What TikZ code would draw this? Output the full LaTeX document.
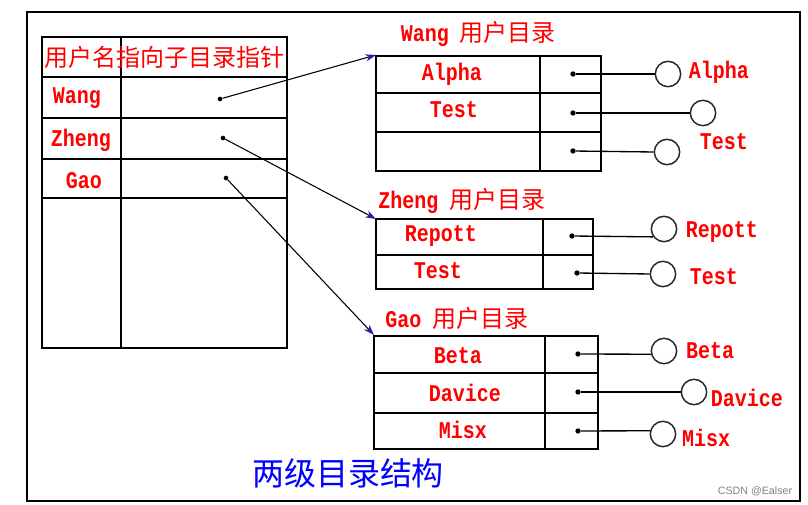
\documentclass[tikz,border=0pt]{standalone}
\usepackage{fontspec}
\usepackage{graphicx}
\setmainfont{Liberation Serif}
\newfontfamily\cjk{Noto Sans CJK SC}
\newfontfamily\monofnt{Liberation Mono}
\newfontfamily\sansfnt{Liberation Sans}
\newcommand{\lat}[1]{{\monofnt\bfseries\fontsize{15}{18}\selectfont\scalebox{1}[1.2]{#1}}}
\newcommand{\cn}[1]{{\cjk\fontsize{18}{20}\selectfont #1}}
\definecolor{arrowblue}{RGB}{60,20,170}
\definecolor{linegray}{RGB}{40,40,40}
\tikzset{
  thickbox/.style={draw=black,line width=2pt},
  thinline/.style={draw=black,line width=1.2pt},
  lbl/.style={text=red,inner sep=0pt},
  ptr/.style={circle,fill=black,inner sep=0pt,minimum size=4pt},
  leaf/.style={circle,draw=linegray,line width=1.1pt,inner sep=0pt,minimum size=19pt},
  link/.style={draw=black,line width=1pt},
  arr/.style={draw=black,line width=0.8pt,-{Stealth[length=8pt,width=5.5pt,fill=arrowblue,color=arrowblue]}},
}
\usetikzlibrary{arrows.meta}
\begin{document}
\begin{tikzpicture}[x=0.75pt,y=-0.75pt]
\useasboundingbox (0,0) rectangle (808,505);
\fill[white] (0,0) rectangle (808,505);
% outer frame
\draw[line width=1.5pt] (27,12) rectangle (800,501);

% ---------- left table ----------
\draw[thickbox] (42,37) rectangle (287,348);
\draw[thinline] (121,37) -- (121,348);
\foreach \yy in {77,118,159,198} \draw[thinline] (42,\yy) -- (287,\yy);
\node[lbl] (hdr) at (164.5,57) {\cn{用户名指向子目录指针}};
\node[lbl] (uw) at (77,98) {\lat{Wang}};
\node[lbl] (uz) at (81,140) {\lat{Zheng}};
\node[lbl] (ug) at (84,181) {\lat{Gao}};
\node[ptr,minimum size=3.5pt] (pw) at (220,99) {};
\node[ptr,minimum size=3.5pt] (pz) at (223,138) {};
\node[ptr,minimum size=3.5pt] (pg) at (226,178) {};

% ---------- Wang directory ----------
\node[lbl] (tw) at (478,34) {\lat{Wang}\hspace{7.5pt}\cn{用户目录}};
\draw[thickbox] (376,56) rectangle (601,171);
\draw[thinline] (540,56) -- (540,171);
\draw[thinline] (376,93) -- (601,93);
\draw[thinline] (376,132) -- (601,132);
\coordinate (cw) at (376,55);
\node[lbl] (wa) at (452,74) {\lat{Alpha}};
\node[lbl] (wt) at (454,110) {\lat{Test}};
\node[ptr] (dw1) at (573,74) {};
\node[ptr] (dw2) at (573,113) {};
\node[ptr] (dw3) at (573,151) {};
\node[leaf] (ow1) at (668,74) {};
\node[leaf] (ow2) at (703,113) {};
\node[leaf] (ow3) at (667,152) {};
\node[lbl] (lw1) at (719,72) {\lat{Alpha}};
\node[lbl] (lw2) at (724,142) {\lat{Test}};
\draw[link] (dw1) -- (ow1);
\draw[link] (dw2) -- (ow2);
\draw[link] (dw3) -- (ow3.west);

% ---------- Zheng directory ----------
\node[lbl] (tz) at (462,201) {\lat{Zheng}\hspace{8.5pt}\cn{用户目录}};
\draw[thickbox] (376,219) rectangle (593,289);
\draw[thinline] (543,219) -- (543,289);
\draw[thinline] (376,255) -- (593,255);
\coordinate (cz) at (376,219);
\node[lbl] (zr) at (441,236) {\lat{Repott}};
\node[lbl] (zt) at (438,271) {\lat{Test}};
\node[ptr] (dz1) at (572,236) {};
\node[ptr] (dz2) at (577,273) {};
\node[leaf] (oz1) at (664,229) {};
\node[leaf] (oz2) at (663,274) {};
\node[lbl] (lz1) at (722,232) {\lat{Repott}};
\node[lbl] (lz2) at (714,277) {\lat{Test}};
\draw[link] (dz1) -- (oz1.216);
\draw[link] (dz2) -- (oz2.west);

% ---------- Gao directory ----------
\node[lbl] (tg) at (457,318) {\lat{Gao}\hspace{8.5pt}\cn{用户目录}};
\draw[thickbox] (374,336) rectangle (598,449);
\draw[thinline] (545,336) -- (545,449);
\draw[thinline] (374,373) -- (598,373);
\draw[thinline] (374,413) -- (598,413);
\coordinate (cg) at (374,335);
\node[lbl] (gb) at (458,356) {\lat{Beta}};
\node[lbl] (gd) at (465,393) {\lat{Davice}};
\node[lbl] (gm) at (463,430) {\lat{Misx}};
\node[ptr] (dg1) at (578,354) {};
\node[ptr] (dg2) at (578,392) {};
\node[ptr] (dg3) at (578,431) {};
\node[leaf] (og1) at (664,351) {};
\node[leaf] (og2) at (694,392) {};
\node[leaf] (og3) at (663,434) {};
\node[lbl] (lg1) at (710,351) {\lat{Beta}};
\node[lbl] (lg2) at (747,398) {\lat{Davice}};
\node[lbl] (lg3) at (706,438) {\lat{Misx}};
\draw[link] (dg1) -- (og1.194);
\draw[link] (dg2) -- (og2);
\draw[link] (dg3) -- (og3.166);

% ---------- pointers ----------
\draw[arr] (pw) -- (cw);
\draw[arr] (pz) -- (cz);
\draw[arr] (pg) -- (cg);

% ---------- captions ----------
\node[text=blue,inner sep=0pt] (cap) at (348,473) {\cjk\fontsize{24}{26}\selectfont 两级目录结构};
\node[text=gray,inner sep=0pt] (wm) at (755,491) {\sansfnt\fontsize{8}{9}\selectfont CSDN @Ealser};
\end{tikzpicture}
\end{document}
